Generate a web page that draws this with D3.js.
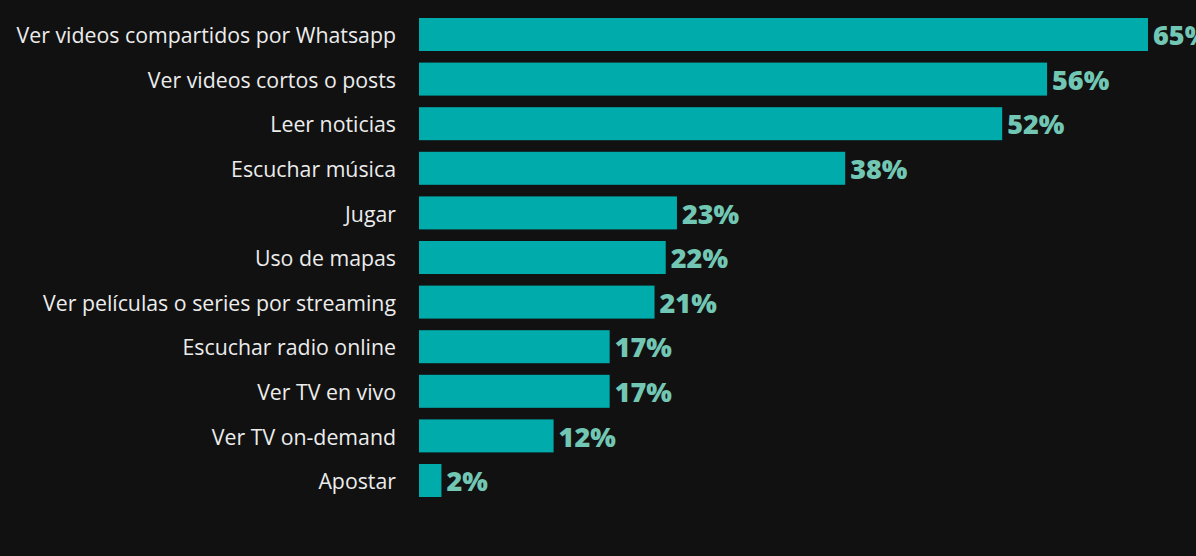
<!DOCTYPE html>
<html>
<head>
<meta charset="utf-8">
<script src="https://cdn.jsdelivr.net/npm/d3@7"></script>
<style>
  body { margin: 0; background: #111111; }
</style>
</head>
<body>
<script>
const categories = [
  'Ver videos compartidos por Whatsapp',
  'Ver videos cortos o posts',
  'Leer noticias',
  'Escuchar música',
  'Jugar',
  'Uso de mapas',
  'Ver películas o series por streaming',
  'Escuchar radio online',
  'Ver TV en vivo',
  'Ver TV on-demand',
  'Apostar'
];
const values = [65, 56, 52, 38, 23, 22, 21, 17, 17, 12, 2];

const width = 1196;
const height = 556;
const left = 419;

const svg = d3.select('body')
  .append('svg')
  .attr('width', width)
  .attr('height', height)
  .style('display', 'block');

svg.append('rect')
  .attr('width', width)
  .attr('height', height)
  .attr('fill', '#111111');

const xScale = d3.scaleLinear()
  .domain([0, 65])
  .range([left, 1148]);

const yScale = d3.scaleBand()
  .domain(categories)
  .range([6.4, 508.6])
  .padding(0.26);

const data = categories.map((c, i) => ({ name: c, value: values[i] }));

svg.selectAll('.bar').data(data)
  .enter()
  .append('rect')
  .attr('class', 'bar')
  .attr('x', xScale(0))
  .attr('y', d => yScale(d.name))
  .attr('width', d => xScale(d.value) - xScale(0))
  .attr('height', yScale.bandwidth())
  .attr('fill', '#00abab');

svg.selectAll('.label').data(data)
  .enter()
  .append('text')
  .attr('class', 'label')
  .attr('x', left - 23)
  .attr('y', d => yScale(d.name) + yScale.bandwidth() / 2 + 1)
  .attr('dy', '0.36em')
  .style('text-anchor', 'end')
  .style('font-family', '"Open Sans", "Noto Sans", sans-serif')
  .style('font-size', '21.3px')
  .style('fill', '#ececec')
  .text(d => d.name);

svg.selectAll('.value').data(data)
  .enter()
  .append('text')
  .attr('class', 'value')
  .attr('x', d => xScale(d.value) + 5)
  .attr('y', d => yScale(d.name) + yScale.bandwidth() / 2 + 1)
  .attr('dy', '0.36em')
  .style('font-family', '"Open Sans", "Noto Sans", sans-serif')
  .style('font-weight', '800')
  .style('font-size', '27px')
  .style('fill', '#72c7b4')
  .text(d => d.value + '%');
</script>
</body>
</html>
